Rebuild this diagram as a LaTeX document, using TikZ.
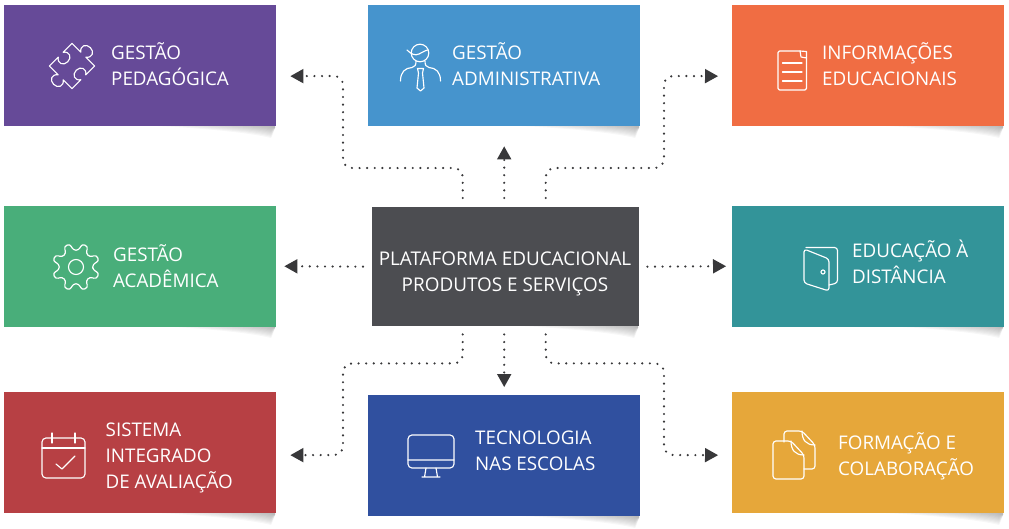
\documentclass[tikz,border=0pt]{standalone}
\usepackage{fontspec}
\setmainfont{Open Sans}
\usetikzlibrary{arrows.meta,calc}
\definecolor{cpur}{HTML}{664A98}
\definecolor{cblu}{HTML}{4694CD}
\definecolor{cora}{HTML}{F06D43}
\definecolor{cgre}{HTML}{49AE7A}
\definecolor{ctea}{HTML}{339499}
\definecolor{ccen}{HTML}{4C4D51}
\definecolor{cred}{HTML}{B74044}
\definecolor{cdbl}{HTML}{30509F}
\definecolor{cyel}{HTML}{E6A73A}
\definecolor{cdot}{HTML}{38383A}
\newcommand{\boxshadow}[2]{%
  \foreach \f in {1,.9,.8,.7,.6,.5,.4,.3,.2,.1}{%
    \fill[black,opacity=.03] (#1-136*\f-3,#2-1) .. controls (#1-70*\f,#2+2*\f) and (#1-25*\f,#2+7*\f) .. (#1-5,#2+12*\f) .. controls (#1-3,#2+8*\f) .. (#1-1,#2+2) -- (#1-1,#2-1) -- cycle;
  }}
\tikzset{
  tile/.style={rectangle,anchor=north west,inner sep=0pt,minimum width=272pt,minimum height=121pt},
  lbl/.style={anchor=base west,inner sep=0pt,text=white,align=left,font=\fontsize{18.8}{26}\selectfont},
  clbl/.style={anchor=base,inner sep=0pt,text=white,align=center,font=\fontsize{18.9}{26}\selectfont},
  ico/.style={draw=white,line width=1.15pt,line join=round,line cap=round},
  dotline/.style={draw=cdot,line width=2.4pt,line cap=round,dash pattern=on 0pt off 7.6pt,rounded corners=9pt,
    -{Triangle[length=13pt,width=14.5pt,line width=0pt,fill=cdot]}},
}
\begin{document}
\begin{tikzpicture}[x=1pt,y=-1pt]
\useasboundingbox (0,0) rectangle (1009,528);
\boxshadow{276}{126}\boxshadow{640}{126}\boxshadow{1004}{126}
\boxshadow{276}{326}\boxshadow{639}{326}\boxshadow{1004}{326}
\boxshadow{276}{513}\boxshadow{640}{516}\boxshadow{1004}{513}
% tiles
\node[tile,fill=cpur] (pur) at (4,5) {};
\node[tile,fill=cblu] (blu) at (368,5) {};
\node[tile,fill=cora] (ora) at (732,5) {};
\node[tile,fill=cgre] (gre) at (4,205.5) {};
\node[tile,fill=ccen,minimum width=267pt,minimum height=119pt] (cen) at (372,207) {};
\node[tile,fill=ctea] (tea) at (732,205.5) {};
\node[tile,fill=cred] (red) at (4,392) {};
\node[tile,fill=cdbl] (dbl) at (368,395) {};
\node[tile,fill=cyel] (yel) at (732,392) {};
% labels
\node[lbl] (tpur) at (111,85) {GESTÃO\\PEDAGÓGICA};
\node[lbl] (tblu) at (452,85) {GESTÃO\\ADMINISTRATIVA};
\node[lbl] (tora) at (822,85) {INFORMAÇÕES\\EDUCACIONAIS};
\node[lbl] (tgre) at (113,287) {GESTÃO\\ACADÊMICA};
\node[clbl] (tcen) at (505,291) {PLATAFORMA EDUCACIONAL\\PRODUTOS E SERVIÇOS};
\node[lbl] (ttea) at (852,283.5) {EDUCAÇÃO À\\DISTÂNCIA};
\node[lbl] (tred) at (105.5,488) {SISTEMA\\INTEGRADO\\DE AVALIAÇÃO};
\node[lbl] (tdbl) at (475,470) {TECNOLOGIA\\NAS ESCOLAS};
\node[lbl] (tyel) at (838,475) {FORMAÇÃO E\\COLABORAÇÃO};
% connectors
\draw[dotline,shorten <=9pt,shorten >=14pt] ([xshift=-43pt]cen.north) -- ++(0,-39) -| (343,76) -- ([yshift=-10.5pt]pur.east);
\draw[dotline,shorten <=9pt,shorten >=20pt] ([xshift=-1.5pt]cen.north) -- ([xshift=.0pt,yshift=0pt]blu.south);
\draw[dotline,shorten <=9pt,shorten >=14pt] ([xshift=40pt]cen.north) -- ++(0,-39) -| (664,76) -- ([yshift=-10.5pt]ora.west);
\draw[dotline,shorten <=9pt,shorten >=8pt] (cen.west) -- (gre.east);
\draw[dotline,shorten <=8pt,shorten >=6pt] (cen.east) -- (tea.west);
\draw[dotline,shorten <=8pt,shorten >=14pt] ([xshift=-43pt]cen.south) -- ++(0,37) -| (343,455) -- ([yshift=-2.5pt]red.east);
\draw[dotline,shorten <=8pt,shorten >=8pt] ([xshift=-1.5pt]cen.south) -- ([xshift=0pt]dbl.north);
\draw[dotline,shorten <=8pt,shorten >=14pt] ([xshift=40pt]cen.south) -- ++(0,37) -| (664,455) -- ([yshift=-2.5pt]yel.west);
% puzzle icon
\begin{scope}[shift={(72,66)},rotate=45]
\draw[ico] (16,-16) -- (16,-3.5) .. controls (20,-9) and (26,-6) .. (26,0) .. controls (26,6) and (20,9) .. (16,3.5) -- (16,16)
 -- (3.5,16) .. controls (9,12) and (6,6) .. (0,6) .. controls (-6,6) and (-9,12) .. (-3.5,16) -- (-16,16)
 -- (-16,3.5) .. controls (-20,9) and (-26,6) .. (-26,0) .. controls (-26,-6) and (-20,-9) .. (-16,-3.5) -- (-16,-16)
 -- (-3.5,-16) .. controls (-9,-12) and (-6,-6) .. (0,-6) .. controls (6,-6) and (9,-12) .. (3.5,-16) -- cycle;
\end{scope}
% person icon
\draw[ico] (420,53) circle (8.8pt);
\draw[ico] (407,50) .. controls (411,54) and (415,56) .. (419,54) .. controls (423,52) and (426,50) .. (428,50);
\draw[ico] (400.5,81) .. controls (400.5,72) and (405,68) .. (412,67.5) .. controls (415,67) and (416,65) .. (416,61);
\draw[ico] (440.5,81) .. controls (440.5,72) and (436,68) .. (429,67.5) .. controls (426,67) and (425,65) .. (425,61);
\draw[ico] (417.5,68.5) -- (423.5,68.5) -- (422.5,73) -- (424,88) -- (420.5,91) -- (417,88) -- (418.5,73) -- cycle;
% document icon
\draw[ico,rounded corners=1.5pt] (800,51) -- (778,51) -- (778,90) -- (806.5,90) -- (806.5,58);
\draw[ico] (800,51) -- (806.5,51.5) -- (806.5,58) -- (801,57) -- cycle;
\draw[ico] (782.5,63) -- (802,63) (782.5,72) -- (802,72) (782.5,81) -- (802,81);
% gear icon
\begin{scope}[shift={(76,267)}]
\draw[ico,rounded corners=3pt] (10:17)
  foreach \a in {0,45,...,315}{ -- (\a+10:17) -- (\a+14:23.8) -- (\a+31:23.8) -- (\a+35:17) }
  -- cycle;
\draw[ico] (0,0) circle (7.5pt);
\end{scope}
% door icon
\draw[ico,rounded corners=3pt] (806,247.5) -- (837.5,247.5) -- (837.5,283) -- (829,285);
\draw[ico,rounded corners=3pt] (804,249) -- (829,259) -- (829,291) -- (804,283) -- cycle;
\draw[ico] (823,272) circle (2pt);
% calendar icon
\draw[ico,rounded corners=4pt] (42,438) rectangle (85,478);
\draw[ico] (42,448) -- (85,448) (52,433) -- (52,443) (75,433) -- (75,443);
\draw[ico] (56,464) -- (62,469) -- (75,456);
% monitor icon
\draw[ico,rounded corners=4pt] (408,435) rectangle (454,468);
\draw[ico] (408,460) -- (454,460) (426,468) -- (424.5,477) (436,468) -- (437.5,477) (422,477) -- (440,477);
% files icon
\draw[ico,rounded corners=3pt] (784,442) -- (784,431) -- (802,431) -- (815,445) -- (815,469) -- (804,469);
\draw[ico] (802,431) .. controls (802,440) and (806,445) .. (815,445);
\draw[ico,rounded corners=3pt] (791,441) -- (773,441) -- (773,479) -- (804,479) -- (804,455) -- cycle;
\draw[ico] (791,441) .. controls (791,450) and (795,455) .. (804,455);
\end{tikzpicture}
\end{document}
